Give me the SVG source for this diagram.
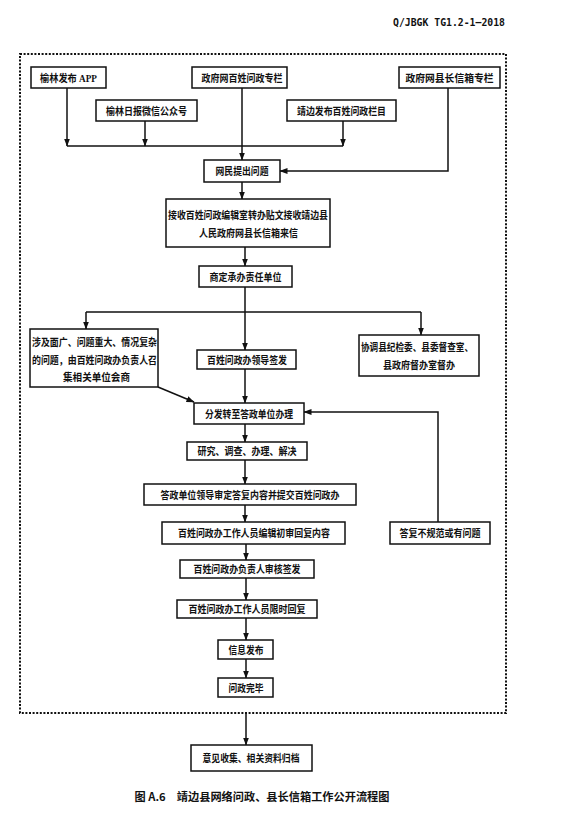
<svg xmlns="http://www.w3.org/2000/svg" width="581" height="818" viewBox="0 0 581 818">
<style>
.b{fill:#fff;stroke:#111;stroke-width:1.5}
.t{font-family:"Liberation Serif","Noto Sans CJK SC",serif;font-size:10.5px;font-weight:bold;fill:#111;text-anchor:middle}
.c{fill:none;stroke:#111;stroke-width:1.5}
.a{fill:none;stroke:#111;stroke-width:1.5;marker-end:url(#ah)}
.h{font-family:"DejaVu Sans Mono","Noto Sans CJK SC",monospace;font-weight:bold;fill:#111}
.k{font-family:"Noto Sans CJK SC","DejaVu Sans",sans-serif;font-weight:bold;fill:#111}
</style>
<defs>
<marker id="ah" markerUnits="userSpaceOnUse" markerWidth="8" markerHeight="6" refX="7.5" refY="3" orient="auto">
<path d="M0,0 L8,3 L0,6 z" fill="#111"/>
</marker>
</defs>
<rect width="581" height="818" fill="#fff"/>
<text class="h" x="505" y="26" font-size="11" text-anchor="end" textLength="112" lengthAdjust="spacingAndGlyphs">Q/JBGK TG1.2-1—2018</text>
<rect x="20" y="54" width="486" height="659" fill="none" stroke="#111" stroke-width="2" stroke-dasharray="2 1.6"/>

<g id="connectors">
<path class="a" d="M67,88 V146"/>
<path class="a" d="M145,121 V146"/>
<path class="a" d="M343,121 V146"/>
<path class="c" d="M67,146 H343"/>
<path class="a" d="M242,88 V160"/>
<path class="a" d="M448,88 V171 H280"/>
<path class="a" d="M242,182 V199"/>
<path class="a" d="M245,247 V266"/>
<path class="c" d="M245,287 V312 M86,312 H421"/>
<path class="a" d="M86,312 V329"/>
<path class="a" d="M245,312 V350"/>
<path class="a" d="M421,312 V335"/>
<path class="a" d="M245,369 V403"/>
<path class="a" d="M158,387 L194,402"/>
<path class="a" d="M438,522 V412 H304"/>
<path class="a" d="M245,424 V442"/>
<path class="a" d="M245,460 V484"/>
<path class="a" d="M245,505 V522"/>
<path class="a" d="M246,544 V560"/>
<path class="a" d="M246,578 V600"/>
<path class="a" d="M246,618 V640"/>
<path class="a" d="M246,659 V678"/>
<path class="a" d="M246,713 V745"/>
</g>

<g id="n1"><rect class="b" x="31" y="67" width="75" height="21"/><text class="t" x="68.5" y="81.5" textLength="57" lengthAdjust="spacingAndGlyphs">榆林发布 APP</text></g>
<g id="n2"><rect class="b" x="192" y="67" width="95" height="21"/><text class="t" x="242" y="81.5" textLength="81" lengthAdjust="spacingAndGlyphs">政府网百姓问政专栏</text></g>
<g id="n3"><rect class="b" x="399" y="67" width="101" height="21"/><text class="t" x="449.5" y="81.5" textLength="88" lengthAdjust="spacingAndGlyphs">政府网县长信箱专栏</text></g>
<g id="n4"><rect class="b" x="96" y="100" width="101" height="21"/><text class="t" x="146.5" y="114.5" textLength="81" lengthAdjust="spacingAndGlyphs">榆林日报微信公众号</text></g>
<g id="n5"><rect class="b" x="287" y="100" width="109" height="21"/><text class="t" x="341.5" y="114.5" textLength="89" lengthAdjust="spacingAndGlyphs">靖边发布百姓问政栏目</text></g>
<g id="n6"><rect class="b" x="204" y="160" width="76" height="22"/><text class="t" x="242" y="175" textLength="53" lengthAdjust="spacingAndGlyphs">网民提出问题</text></g>
<g id="n7"><rect class="b" x="166" y="199" width="164" height="48"/><text class="t" x="248" y="219" textLength="160" lengthAdjust="spacingAndGlyphs">接收百姓问政编辑室转办贴文接收靖边县</text><text class="t" x="248.5" y="237" textLength="99" lengthAdjust="spacingAndGlyphs">人民政府网县长信箱来信</text></g>
<g id="n8"><rect class="b" x="199" y="266" width="93" height="21"/><text class="t" x="245.5" y="280.5" textLength="72" lengthAdjust="spacingAndGlyphs">商定承办责任单位</text></g>
<g id="n9"><rect class="b" x="30" y="329" width="128" height="58"/><text class="t" x="94.5" y="346" textLength="125" lengthAdjust="spacingAndGlyphs">涉及面广、问题重大、情况复杂</text><text class="t" x="94.5" y="364" textLength="125" lengthAdjust="spacingAndGlyphs">的问题，由百姓问政办负责人召</text><text class="t" x="96.5" y="381" textLength="67" lengthAdjust="spacingAndGlyphs">集相关单位会商</text></g>
<g id="n10"><rect class="b" x="197" y="350" width="99" height="19"/><text class="t" x="247" y="363.5" textLength="80" lengthAdjust="spacingAndGlyphs">百姓问政办领导签发</text></g>
<g id="n11"><rect class="b" x="359" y="335" width="120" height="41"/><text class="t" x="417" y="351" textLength="112" lengthAdjust="spacingAndGlyphs">协调县纪检委、县委督查室、</text><text class="t" x="419" y="369" textLength="72" lengthAdjust="spacingAndGlyphs">县政府督办室督办</text></g>
<g id="n12"><rect class="b" x="194" y="403" width="110" height="21"/><text class="t" x="249" y="417.5" textLength="88" lengthAdjust="spacingAndGlyphs">分发转至答政单位办理</text></g>
<g id="n13"><rect class="b" x="187" y="442" width="120" height="18"/><text class="t" x="247" y="455" textLength="99" lengthAdjust="spacingAndGlyphs">研究、调查、办理、解决</text></g>
<g id="n14"><rect class="b" x="144" y="484" width="212" height="21"/><text class="t" x="250" y="498.5" textLength="179" lengthAdjust="spacingAndGlyphs">答政单位领导审定答复内容并提交百姓问政办</text></g>
<g id="n15"><rect class="b" x="162" y="522" width="183" height="22"/><text class="t" x="254" y="537" textLength="152" lengthAdjust="spacingAndGlyphs">百姓问政办工作人员编辑初审回复内容</text></g>
<g id="n16"><rect class="b" x="390" y="522" width="100" height="22"/><text class="t" x="440" y="537" textLength="81" lengthAdjust="spacingAndGlyphs">答复不规范或有问题</text></g>
<g id="n17"><rect class="b" x="180" y="560" width="134" height="18"/><text class="t" x="247" y="573" textLength="107" lengthAdjust="spacingAndGlyphs">百姓问政办负责人审核签发</text></g>
<g id="n18"><rect class="b" x="177" y="600" width="140" height="18"/><text class="t" x="247" y="613" textLength="117" lengthAdjust="spacingAndGlyphs">百姓问政办工作人员限时回复</text></g>
<g id="n19"><rect class="b" x="218" y="640" width="55" height="19"/><text class="t" x="246" y="653.5" textLength="35" lengthAdjust="spacingAndGlyphs">信息发布</text></g>
<g id="n20"><rect class="b" x="218" y="678" width="55" height="19"/><text class="t" x="246" y="691.5" textLength="35" lengthAdjust="spacingAndGlyphs">问政完毕</text></g>
<g id="n21"><rect class="b" x="191" y="745" width="121" height="26"/><text class="t" x="251" y="762" textLength="97" lengthAdjust="spacingAndGlyphs">意见收集、相关资料归档</text></g>
<text class="k" x="262" y="801" font-size="11" text-anchor="middle" textLength="255" lengthAdjust="spacingAndGlyphs">图 A.6　靖边县网络问政、县长信箱工作公开流程图</text>
</svg>
